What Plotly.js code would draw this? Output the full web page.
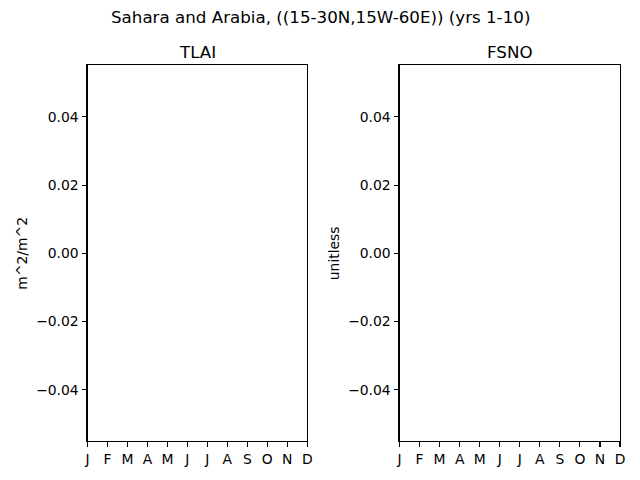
<!DOCTYPE html>
<html>
<head>
<meta charset="utf-8">
<script src="https://cdn.plot.ly/plotly-3.0.1.min.js"></script>
<style>html,body{margin:0;padding:0;background:#fff;}#chart{width:640px;height:480px;}</style>
</head>
<body>
<div id="chart"></div>
<script>
const months = [1,2,3,4,5,6,7,8,9,10,11,12];
const monthLabels = ["J","F","M","A","M","J","J","A","S","O","N","D"];
const tlaiValues = [null,null,null,null,null,null,null,null,null,null,null,null];
const fsnoValues = [null,null,null,null,null,null,null,null,null,null,null,null];
const yTickVals = [-0.04,-0.02,0,0.02,0.04];
const yTickText = ["\u22120.04","\u22120.02","0.00","0.02","0.04"];
const suptitle = "Sahara and Arabia, ((15-30N,15W-60E)) (yrs 1-10)";
const panelTitles = ["TLAI","FSNO"];
const yUnits = ["m^2/m^2","unitless"];

const FONT = "DejaVu Sans, sans-serif";
const W = 640, H = 480;
const yDom = [1-441.3/H, 1-65.3/H];
const xDom1 = [87.5/W, 307.3/W];
const xDom2 = [399.5/W, 620/W];

function xa(dom, anchor){
  return {domain: dom, anchor: anchor, range:[1,12], tickvals: months, ticktext: monthLabels,
    showline:true, mirror:true, linecolor:'#000', linewidth:1.1, showgrid:false, zeroline:false,
    ticks:'outside', ticklen:4.9, tickwidth:1.1, tickcolor:'#000',
    tickfont:{family:FONT, size:13.9, color:'#000'}};
}
function ya(anchor, title){
  return {domain: yDom, anchor: anchor, range:[-0.0551,0.0551], tickvals:yTickVals, ticktext:yTickText,
    showline:true, mirror:true, linecolor:'#000', linewidth:1.1, showgrid:false, zeroline:false,
    ticks:'outside', ticklen:4.9, tickwidth:1.1, tickcolor:'#000',
    tickfont:{family:FONT, size:13.9, color:'#000'},
    title:{text:title, font:{family:FONT, size:13.9, color:'#000'}, standoff:5}};
}

const data = [
  {x: months, y: tlaiValues, type:'scatter', mode:'lines', xaxis:'x', yaxis:'y', line:{color:'#1f77b4'}, showlegend:false},
  {x: months, y: fsnoValues, type:'scatter', mode:'lines', xaxis:'x2', yaxis:'y2', line:{color:'#1f77b4'}, showlegend:false}
];

const layout = {
  width: W, height: H,
  margin:{l:0,r:0,t:0,b:0},
  paper_bgcolor:'#fff', plot_bgcolor:'#fff',
  font:{family:FONT, color:'#000'},
  xaxis: xa(xDom1,'y'),
  yaxis: ya('x', yUnits[0]),
  xaxis2: xa(xDom2,'y2'),
  yaxis2: ya('x2', yUnits[1]),
  annotations:[
    {text: suptitle, xref:'paper', yref:'paper', x:0.5, y:1-16.5/H, xanchor:'center', yanchor:'middle', showarrow:false, font:{family:FONT, size:16.7, color:'#000'}},
    {text: panelTitles[0], xref:'paper', yref:'paper', x:(xDom1[0]+xDom1[1])/2, y:1-51.5/H, xanchor:'center', yanchor:'middle', showarrow:false, font:{family:FONT, size:16.7, color:'#000'}},
    {text: panelTitles[1], xref:'paper', yref:'paper', x:(xDom2[0]+xDom2[1])/2, y:1-51.5/H, xanchor:'center', yanchor:'middle', showarrow:false, font:{family:FONT, size:16.7, color:'#000'}}
  ]
};

Plotly.newPlot('chart', data, layout, {staticPlot:true, displayModeBar:false});
</script>
</body>
</html>
